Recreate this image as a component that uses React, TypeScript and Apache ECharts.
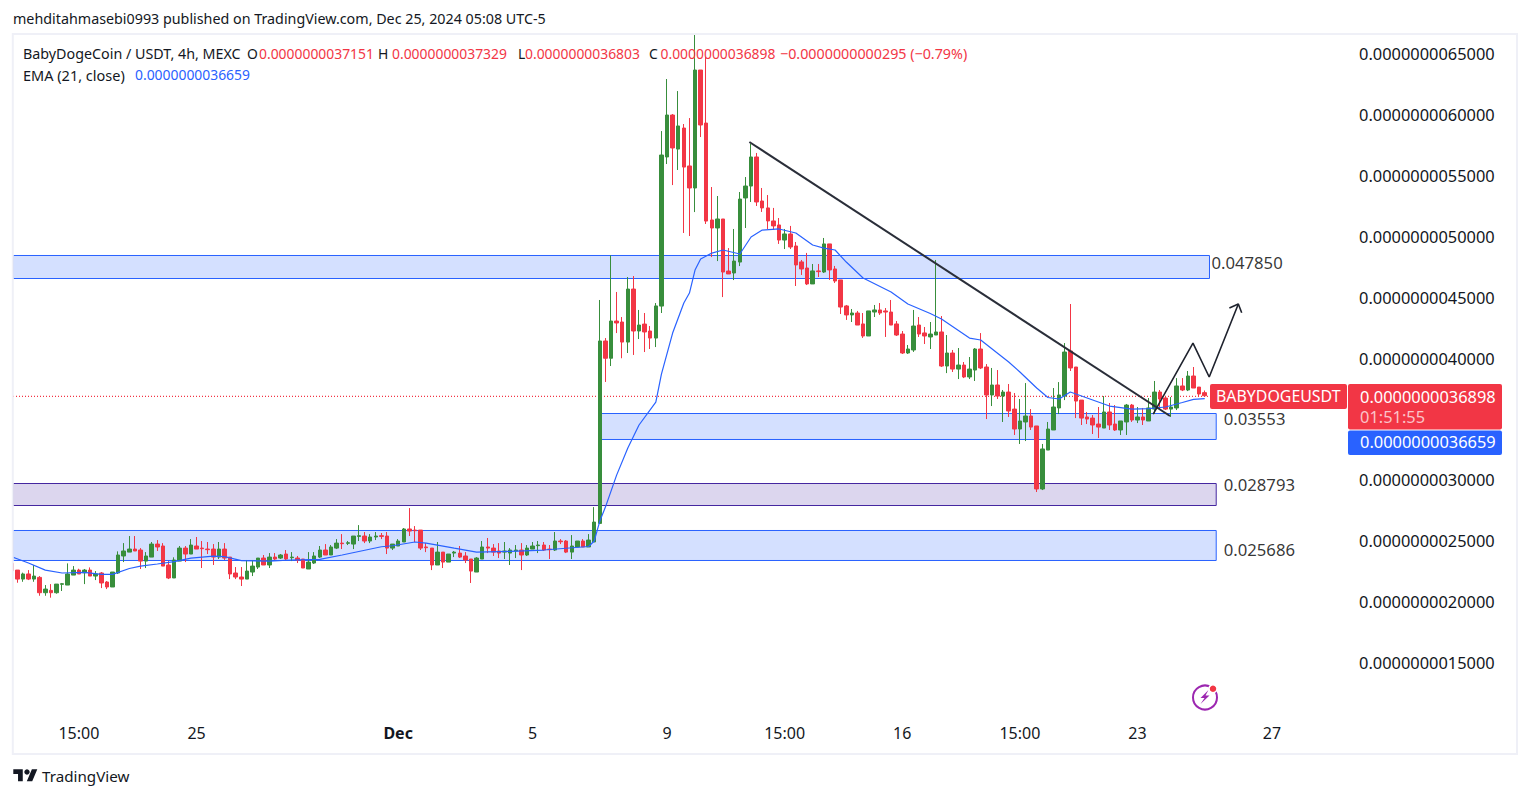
import React, { useEffect, useRef } from "react";
import * as echarts from "echarts";

// prices in units of 1e-9 USDT, one entry per 4h candle
const opens = [
  2.311,2.256,2.182,2.224,2.182,2.196,2.070,2.089,2.070,2.139,2.133,
  2.215,2.256,2.234,2.256,2.207,2.232,2.158,2.117,2.232,2.372,
  2.404,2.429,2.421,2.330,2.363,2.470,2.454,2.298,2.191,2.330,
  2.437,2.388,2.454,2.437,2.429,2.429,2.363,2.429,2.363,2.232,
  2.199,2.182,2.240,2.281,2.355,2.298,2.363,2.355,2.388,2.358,
  2.355,2.347,2.265,2.314,2.363,2.421,2.380,2.437,2.478,2.476,
  2.470,2.533,2.536,2.495,2.528,2.539,2.536,2.437,2.454,2.487,
  2.594,2.585,2.585,2.446,2.437,2.298,2.404,2.322,2.396,2.396,
  2.372,2.347,2.240,2.347,2.446,2.437,2.413,2.404,2.396,2.413,
  2.421,2.380,2.429,2.457,2.462,2.429,2.421,2.495,2.495,2.404,
  2.446,2.495,2.446,2.487,2.640,4.140,3.998,4.304,4.296,4.131,
  4.567,4.222,4.279,4.222,4.164,4.427,5.653,5.998,5.718,5.891,
  5.579,5.398,6.368,5.932,5.135,5.069,5.143,4.715,4.699,4.789,
  5.316,5.414,5.653,5.291,5.234,5.127,5.094,4.970,5.020,4.921,
  4.790,4.740,4.609,4.716,4.707,4.938,4.732,4.642,4.428,4.354,
  4.370,4.280,4.181,4.378,4.395,4.387,4.378,4.280,4.197,4.041,
  4.066,4.271,4.206,4.173,4.189,4.214,3.934,4.041,3.909,3.942,
  3.844,3.901,4.074,3.926,3.696,3.778,3.687,3.720,3.580,3.416,
  3.474,3.523,3.441,2.923,3.243,3.408,3.589,3.687,4.057,3.926,
  3.654,3.515,3.506,3.457,3.424,3.556,3.457,3.408,3.474,3.613,
  3.490,3.515,3.482,3.580,3.720,3.671,3.580,3.589,3.770,3.737,
  3.852,3.761,3.7151,
];
const closes = [
  2.251,2.182,2.224,2.182,2.207,2.070,2.100,2.070,2.141,2.144,2.224,
  2.256,2.224,2.256,2.207,2.224,2.150,2.117,2.240,2.380,2.413,
  2.429,2.413,2.330,2.372,2.470,2.446,2.289,2.191,2.339,2.437,
  2.388,2.462,2.429,2.432,2.424,2.363,2.429,2.355,2.224,2.199,
  2.182,2.248,2.289,2.355,2.298,2.363,2.347,2.380,2.347,2.363,
  2.339,2.273,2.322,2.372,2.421,2.380,2.446,2.478,2.473,2.481,
  2.536,2.539,2.495,2.528,2.536,2.533,2.437,2.470,2.495,2.594,
  2.577,2.580,2.437,2.440,2.298,2.404,2.322,2.388,2.404,2.363,
  2.339,2.248,2.355,2.446,2.437,2.404,2.396,2.413,2.421,2.421,
  2.380,2.437,2.454,2.462,2.421,2.424,2.495,2.489,2.404,2.454,
  2.495,2.446,2.503,2.651,4.140,3.998,4.304,4.288,4.131,4.567,
  4.222,4.271,4.214,4.164,4.428,5.669,5.998,5.727,5.908,5.570,
  5.398,6.368,5.916,5.126,5.069,5.143,4.707,4.691,4.797,5.307,
  5.414,5.653,5.283,5.234,5.127,5.086,4.970,5.020,4.913,4.765,
  4.732,4.609,4.716,4.710,4.938,4.724,4.633,4.419,4.354,4.370,
  4.271,4.181,4.387,4.395,4.370,4.378,4.271,4.189,4.041,4.074,
  4.263,4.197,4.181,4.197,4.214,3.934,4.041,3.909,3.942,3.844,
  3.909,4.074,3.918,3.696,3.778,3.687,3.720,3.564,3.416,3.482,
  3.523,3.432,2.923,3.252,3.416,3.597,3.696,4.049,3.918,3.646,
  3.506,3.498,3.449,3.432,3.556,3.449,3.408,3.482,3.613,3.490,
  3.515,3.490,3.589,3.720,3.663,3.580,3.597,3.770,3.737,3.852,
  3.753,3.704,3.6898,
];
const lows = [
  2.251,2.152,2.160,2.174,2.160,2.045,2.045,2.029,2.062,2.084,2.133,
  2.215,2.224,2.141,2.207,2.174,2.108,2.100,2.117,2.224,2.322,
  2.404,2.413,2.265,2.273,2.363,2.413,2.289,2.182,2.191,2.330,
  2.322,2.388,2.429,2.273,2.388,2.298,2.347,2.339,2.182,2.182,
  2.125,2.182,2.207,2.265,2.298,2.273,2.339,2.347,2.339,2.330,
  2.314,2.273,2.265,2.306,2.355,2.380,2.380,2.429,2.429,2.462,
  2.429,2.495,2.478,2.478,2.503,2.511,2.388,2.421,2.454,2.487,
  2.536,2.487,2.421,2.404,2.256,2.298,2.273,2.322,2.363,2.355,
  2.314,2.150,2.240,2.347,2.396,2.372,2.355,2.347,2.298,2.355,
  2.256,2.372,2.429,2.396,2.413,2.347,2.413,2.470,2.396,2.347,
  2.446,2.446,2.446,2.487,2.640,3.803,3.934,4.205,3.998,4.041,
  4.025,4.156,4.049,4.074,4.090,4.370,5.595,5.422,5.546,5.028,
  5.003,5.200,5.817,5.102,4.830,4.797,4.501,4.691,4.641,4.756,
  5.069,5.283,5.250,5.201,5.061,5.053,4.938,4.896,4.896,4.592,
  4.683,4.600,4.609,4.666,4.699,4.642,4.617,4.362,4.313,4.296,
  4.271,4.165,4.181,4.337,4.354,4.173,4.271,4.181,4.033,4.033,
  4.050,4.173,4.115,4.074,4.189,3.926,3.876,3.885,3.827,3.835,
  3.827,3.811,3.909,3.498,3.605,3.663,3.474,3.515,3.367,3.293,
  3.317,3.408,2.898,2.914,3.243,3.408,3.539,3.654,3.893,3.506,
  3.449,3.457,3.375,3.342,3.424,3.408,3.400,3.367,3.367,3.474,
  3.465,3.449,3.482,3.539,3.580,3.572,3.515,3.572,3.728,3.728,
  3.753,3.679,3.6803,
];
const highs = [
  2.311,2.256,2.235,2.256,2.298,2.207,2.133,2.141,2.141,2.150,2.311,
  2.289,2.267,2.265,2.278,2.248,2.240,2.166,2.240,2.410,2.478,
  2.536,2.536,2.437,2.404,2.487,2.503,2.478,2.330,2.361,2.454,
  2.454,2.511,2.528,2.495,2.487,2.470,2.487,2.478,2.363,2.281,
  2.281,2.339,2.339,2.355,2.380,2.396,2.396,2.388,2.421,2.404,
  2.372,2.347,2.404,2.404,2.454,2.470,2.462,2.511,2.552,2.495,
  2.536,2.626,2.569,2.552,2.569,2.561,2.569,2.470,2.511,2.602,
  2.766,2.618,2.585,2.478,2.437,2.487,2.404,2.388,2.413,2.454,
  2.404,2.347,2.363,2.495,2.520,2.470,2.478,2.487,2.437,2.462,
  2.478,2.462,2.487,2.495,2.487,2.462,2.569,2.511,2.503,2.544,
  2.495,2.511,2.552,2.774,4.477,4.164,4.844,4.543,4.337,4.666,
  4.674,4.395,4.370,4.263,4.452,5.866,6.294,6.006,6.195,5.924,
  5.973,6.661,6.368,6.478,5.406,5.332,5.143,4.904,5.061,5.365,
  5.488,5.760,5.686,5.398,5.340,5.234,5.151,5.061,5.086,4.954,
  4.806,4.864,4.773,4.773,4.987,4.938,4.757,4.642,4.436,4.403,
  4.387,4.370,4.387,4.436,4.452,4.411,4.477,4.304,4.222,4.107,
  4.395,4.337,4.255,4.296,4.806,4.345,4.189,4.066,4.082,3.967,
  4.008,4.082,4.205,3.950,3.918,3.901,3.737,3.786,3.712,3.663,
  3.794,3.580,3.441,3.293,3.474,3.753,3.802,4.123,4.444,3.926,
  3.654,3.556,3.531,3.597,3.687,3.630,3.613,3.482,3.622,3.622,
  3.597,3.589,3.671,3.811,3.737,3.679,3.679,3.835,3.835,3.893,
  3.926,3.761,3.7329,
];

const emaIndex = [0,3,6,9,13,16,18,21,23,26,29,32,36,38,41,46,50,55,59,66,68,72,74,76,79,83,89,95,103,104,105,106,108,110,112,115,116,118,120,121,122,123,125,127,130,132,134,137,140,143,145,147,149,152,157,160,164,166,171,173,178,180,183,185,187,189,192,196,200,203,206,209,211,213];
const emaValues = [2.365,2.314,2.256,2.232,2.237,2.221,2.221,2.269,2.289,2.306,2.326,2.355,2.371,2.367,2.334,2.330,2.339,2.344,2.380,2.448,2.456,2.487,2.478,2.462,2.437,2.404,2.410,2.421,2.450,2.495,2.659,2.774,3.037,3.260,3.449,3.638,3.868,4.205,4.452,4.534,4.723,4.814,4.863,4.888,4.855,4.995,5.052,5.061,5.028,4.929,4.904,4.888,4.789,4.658,4.543,4.444,4.366,4.321,4.164,4.148,3.967,3.885,3.753,3.675,3.663,3.720,3.671,3.605,3.580,3.584,3.597,3.634,3.660,3.6659];

// 0.0000000035000 sits behind the price tags in the reference, so it is not listed
const priceTicks = [1.5, 2, 2.5, 3, 4, 4.5, 5, 5.5, 6, 6.5];
const timeTickIndex = [12, 33, 69, 93, 117, 138, 159, 180, 201, 225];
const timeTickLabels = ["15:00", "25", "Dec", "5", "9", "15:00", "16", "15:00", "23", "27"];

const trendLine = [[131.7, 5.776], [206.8, 3.523]];
const projection = [[203.8, 3.539], [210.9, 4.123], [213.8, 3.844], [219.0, 4.444]];
const arrowHead = [[217.4, 4.411], [219.0, 4.444], [219.6, 4.372]];
const zoneLabels = [
  { i: 214.1, p: 4.789, text: "0.047850" },
  { i: 216.3, p: 3.506, text: "0.03553" },
  { i: 216.3, p: 2.961, text: "0.028793" },
  { i: 216.3, p: 2.429, text: "0.025686" },
];
const priceLineLevel = 3.6838;
const xMin = 0.232;
const xMax = 238.4;
const yMin = 1.048;
const yMax = 6.656;

const FONT = '"Noto Sans", sans-serif';
const INK = "#131722";
const RED = "#f23645";
const GREEN = "#388e3c";
const BLUE = "#2962ff";

function txt(x: number, y: number, text: string, fill = INK, fontSize = 13.9) {
  return {
    type: "text",
    z: 100,
    style: { x, y, text, fill, fontSize, fontFamily: FONT, verticalAlign: "middle", align: "left" },
  };
}
function box(x: number, y: number, w: number, h: number, fill: string) {
  return { type: "rect", z: 90, shape: { x, y, width: w, height: h, r: 2 }, style: { fill } };
}

export default function App() {
  const ref = useRef<HTMLDivElement>(null);
  useEffect(() => {
    document.body.style.margin = "0";
    document.body.style.background = "#fff";
    const logo = "M14 22H7V11H0V4h14v18zM28 22h-8l7.5-18h8L28 22z";
    echarts.graphic.registerShape("tvlogo", echarts.graphic.extendPath(logo, {}) as any);
    const chart = echarts.init(ref.current!, null, { renderer: "svg" });

    const zone = (iFrom: number, iTo: number, pTop: number, pBottom: number, fill: string, stroke: string) => [
      { xAxis: iFrom, yAxis: pTop, itemStyle: { color: fill, borderColor: stroke, borderWidth: 1 } },
      { xAxis: iTo, yAxis: pBottom },
    ];

    chart.setOption({
      animation: false,
      backgroundColor: "#ffffff",
      grid: { left: 13, top: 35, width: 1334, height: 682, containLabel: false },
      xAxis: {
        type: "value",
        min: xMin,
        max: xMax,
        splitLine: { show: false },
        axisLine: { show: false },
        axisTick: { show: false },
        axisLabel: {
          customValues: timeTickIndex,
          margin: 8,
          color: INK,
          fontSize: 16,
          fontFamily: FONT,
          hideOverlap: false,
          showMinLabel: true,
          showMaxLabel: true,
          formatter: (v: number) => {
            const t = timeTickLabels[timeTickIndex.indexOf(v)] ?? "";
            return t === "Dec" ? "{b|Dec}" : t;
          },
          rich: { b: { fontWeight: "bold", fontSize: 16, fontFamily: FONT, color: INK } },
        },
      },
      yAxis: {
        type: "value",
        position: "right",
        min: yMin,
        max: yMax,
        splitLine: { show: false },
        axisLine: { show: false },
        axisTick: { show: false },
        axisLabel: {
          customValues: priceTicks,
          margin: 12,
          align: "left",
          color: INK,
          fontSize: 16.4,
          fontFamily: FONT,
          formatter: (v: number) => (v / 1e9).toFixed(13),
        },
      },
      series: [
        {
          type: "line",
          name: "last price",
          showSymbol: false,
          lineStyle: { color: RED, type: [1, 2], width: 1.2 },
          data: [[xMin, priceLineLevel], [xMax, priceLineLevel]],
          z: 1,
        },
        {
          type: "candlestick",
          name: "BABYDOGEUSDT",
          barWidth: 4,
          itemStyle: { color: GREEN, color0: RED, borderColor: GREEN, borderColor0: RED, borderWidth: 1 },
          encode: { x: 0, y: [1, 2, 3, 4] },
          data: opens.map((o, i) => [i, o, closes[i], lows[i], highs[i]]),
          markArea: {
            silent: true,
            data: [
              zone(xMin, 213.85, 4.8429, 4.6537, "#d4e0ff", BLUE),
              zone(105.3, 215.05, 3.5436, 3.3299, "#d4e0ff", BLUE),
              zone(xMin, 215.05, 2.968, 2.7871, "#dcd6ee", "#4527a0"),
              zone(xMin, 215.05, 2.5816, 2.3349, "#d4e0ff", BLUE),
            ],
          },
        },
        {
          type: "line",
          name: "EMA (21, close)",
          showSymbol: false,
          lineStyle: { color: BLUE, width: 1.2 },
          data: emaIndex.map((i, n) => [i, emaValues[n]]),
          z: 4,
        },
        {
          type: "line",
          name: "trend",
          showSymbol: false,
          lineStyle: { color: "#2a2e39", width: 2 },
          data: trendLine,
          z: 5,
        },
        {
          type: "line",
          name: "projection",
          showSymbol: false,
          lineStyle: { color: "#1e222d", width: 1.6 },
          data: projection,
          z: 5,
        },
        {
          type: "line",
          name: "arrow",
          showSymbol: false,
          lineStyle: { color: "#1e222d", width: 1.6 },
          data: arrowHead,
          z: 5,
        },
        {
          type: "scatter",
          name: "zones",
          symbolSize: 1,
          itemStyle: { color: "transparent" },
          data: zoneLabels.map((d) => ({ value: [d.i, d.p], name: d.text })),
          label: {
            show: true,
            position: "right",
            distance: 0,
            formatter: "{b}",
            color: "#000000",
            fontSize: 16.7,
            fontFamily: FONT,
          },
          z: 6,
        },
      ],
      graphic: [
        { type: "rect", z: 50, shape: { x: 0, y: 35, width: 12, height: 682 }, style: { fill: "#ffffff" } },
        { type: "rect", z: 60, shape: { x: 12.8, y: 34, width: 1504.2, height: 720 }, style: { fill: "none", stroke: "#eff0f7", lineWidth: 2 } },
        txt(13, 18.5, "mehditahmasebi0993 published on TradingView.com, Dec 25, 2024 05:08 UTC-5", INK, 14.3),
        txt(23, 53.5, "BabyDogeCoin / USDT, 4h, MEXC", INK, 14.3),
        txt(247, 53.5, "O"),
        txt(259, 53.5, "0.0000000037151", RED),
        txt(378, 53.5, "H"),
        txt(392, 53.5, "0.0000000037329", RED),
        txt(518, 53.5, "L"),
        txt(525, 53.5, "0.0000000036803", RED),
        txt(649, 53.5, "C"),
        txt(660.5, 53.5, "0.0000000036898", RED),
        txt(780, 53.5, "\u22120.0000000000295 (\u22120.79%)", RED, 14.3),
        txt(23, 74.5, "EMA (21, close)", INK, 14.5),
        txt(135, 74.5, "0.0000000036659", BLUE),
        box(1210, 384, 137, 25, RED),
        box(1348, 384, 154, 45.5, RED),
        box(1348, 430.5, 154, 24.5, BLUE),
        txt(1216, 395.5, "BABYDOGEUSDT", "#ffffff", 15.9),
        txt(1360, 396, "0.0000000036898", "#ffffff", 16.4),
        txt(1360, 416.5, "01:51:55", "#fbc3c8", 16.4),
        txt(1360, 441.5, "0.0000000036659", "#ffffff", 16.4),
        { type: "circle", z: 90, shape: { cx: 1205, cy: 697.5, r: 12 }, style: { fill: "none", stroke: "#9c27b0", lineWidth: 2 } },
        { type: "polygon", z: 91, shape: { points: [[1208.5, 690], [1200.5, 698], [1204.5, 698], [1200.5, 704], [1209.5, 695.5], [1205.5, 695.5]] }, style: { fill: "#9c27b0" } },
        { type: "circle", z: 92, shape: { cx: 1213, cy: 688.7, r: 4 }, style: { fill: RED, stroke: "#ffffff", lineWidth: 1.5 } },
        { type: "tvlogo", z: 90, x: 13.3, y: 766.5, scaleX: 0.676, scaleY: 0.676, style: { fill: "#131722" } },
        { type: "circle", z: 90, shape: { cx: 27, cy: 772, r: 2.7 }, style: { fill: "#131722" } },
        txt(42, 776, "TradingView", "#131722", 15.2),
      ],
    });
    return () => chart.dispose();
  }, []);
  return <div ref={ref} style={{ width: 1530, height: 798, background: "#fff" }} />;
}
